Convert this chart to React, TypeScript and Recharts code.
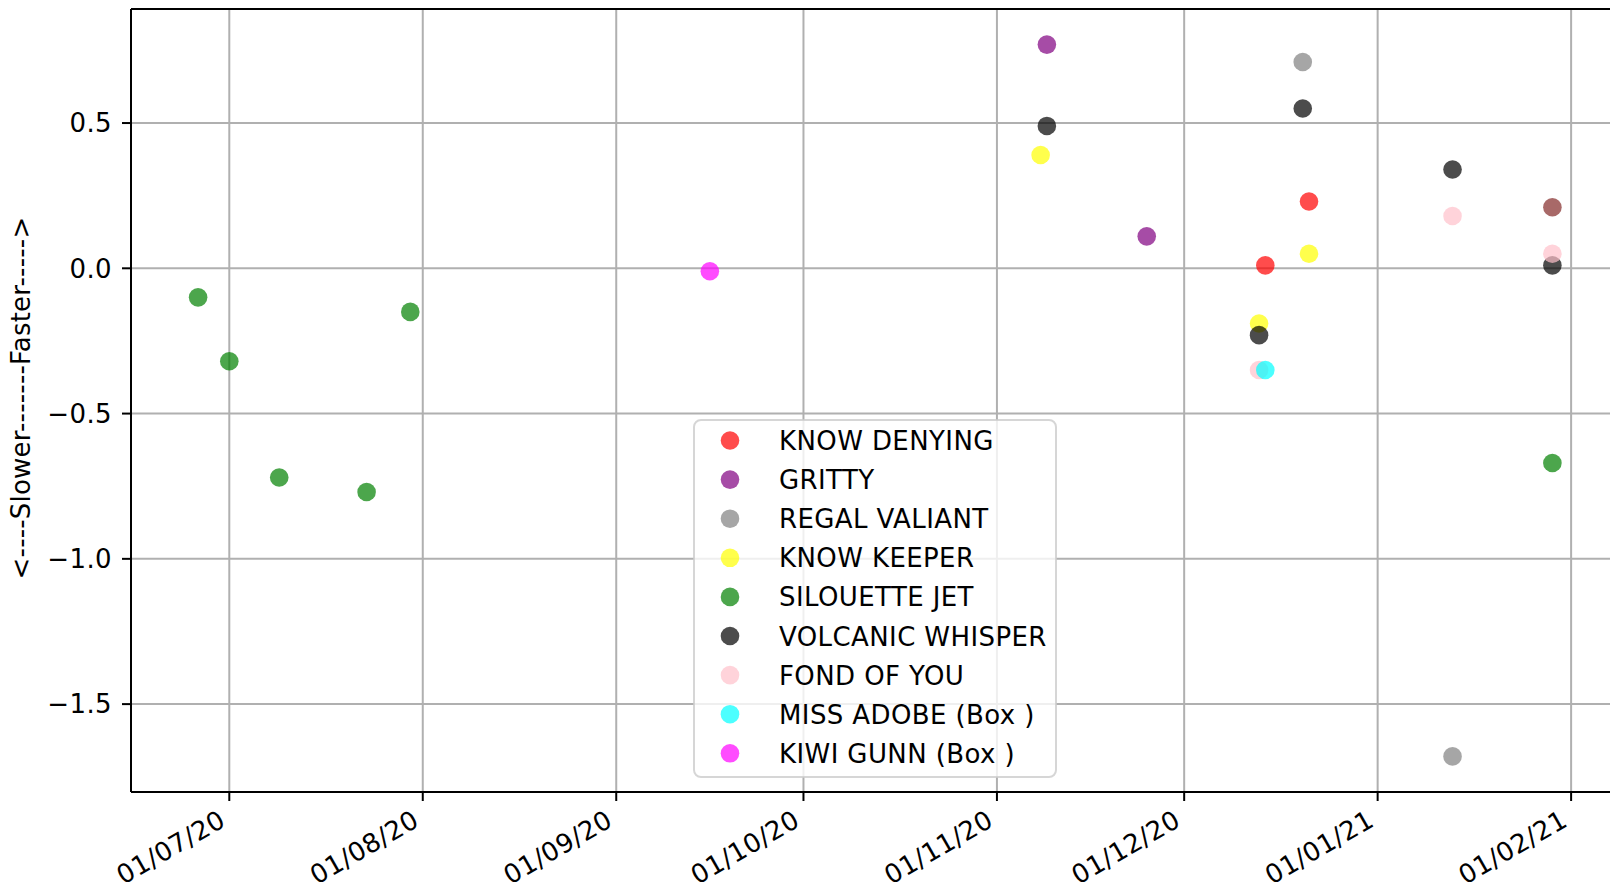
import React from 'react';
import { ScatterChart, Scatter, XAxis, YAxis, CartesianGrid, Legend, ReferenceLine, Label } from 'recharts';

const FONT = '"DejaVu Sans", Verdana, sans-serif';
const FONT_SIZE = 26;
const SPACING = 0.4;

// series, in the order they are drawn (and listed in the legend)
const SERIES_NAMES = [
  'KNOW DENYING',
  'GRITTY',
  'REGAL VALIANT',
  'KNOW KEEPER',
  'SILOUETTE JET',
  'VOLCANIC WHISPER',
  'FOND OF YOU',
  'MISS ADOBE (Box )',
  'KIWI GUNN (Box )',
];
const SERIES_COLORS = ['#ff0000', '#800080', '#808080', '#ffff00', '#008000', '#000000', '#ffc0cb', '#00ffff', '#ff00ff'];

const KNOW_DENYING_DATES = ['2020-12-14', '2020-12-21'];
const KNOW_DENYING_VALUES = [0.01, 0.23];

const GRITTY_DATES = ['2020-11-09', '2020-11-25'];
const GRITTY_VALUES = [0.77, 0.11];

const REGAL_VALIANT_DATES = ['2020-12-20', '2021-01-13'];
const REGAL_VALIANT_VALUES = [0.71, -1.68];

const KNOW_KEEPER_DATES = ['2020-11-08', '2020-12-13', '2020-12-21'];
const KNOW_KEEPER_VALUES = [0.39, -0.19, 0.05];

const SILOUETTE_JET_DATES = ['2020-06-26', '2020-07-01', '2020-07-09', '2020-07-23', '2020-07-30', '2021-01-29'];
const SILOUETTE_JET_VALUES = [-0.1, -0.32, -0.72, -0.77, -0.15, -0.67];

const VOLCANIC_WHISPER_DATES = ['2020-11-09', '2020-12-13', '2020-12-20', '2021-01-13', '2021-01-29'];
const VOLCANIC_WHISPER_VALUES = [0.49, -0.23, 0.55, 0.34, 0.01];

const FOND_OF_YOU_DATES = ['2020-12-13', '2021-01-13', '2021-01-29'];
const FOND_OF_YOU_VALUES = [-0.35, 0.18, 0.05];

const MISS_ADOBE_DATES = ['2020-12-14'];
const MISS_ADOBE_VALUES = [-0.35];

const KIWI_GUNN_DATES = ['2020-09-16'];
const KIWI_GUNN_VALUES = [-0.01];

// one extra point that is not in the legend
const UNLISTED_DATES = ['2021-01-29'];
const UNLISTED_VALUES = [0.21];
const UNLISTED_COLOR = '#832a28';

const SERIES_DATES = [
  KNOW_DENYING_DATES, GRITTY_DATES, REGAL_VALIANT_DATES, KNOW_KEEPER_DATES, SILOUETTE_JET_DATES,
  VOLCANIC_WHISPER_DATES, FOND_OF_YOU_DATES, MISS_ADOBE_DATES, KIWI_GUNN_DATES,
];
const SERIES_VALUES = [
  KNOW_DENYING_VALUES, GRITTY_VALUES, REGAL_VALIANT_VALUES, KNOW_KEEPER_VALUES, SILOUETTE_JET_VALUES,
  VOLCANIC_WHISPER_VALUES, FOND_OF_YOU_VALUES, MISS_ADOBE_VALUES, KIWI_GUNN_VALUES,
];

const X_TICKS = ['2020-07-01', '2020-08-01', '2020-09-01', '2020-10-01', '2020-11-01', '2020-12-01', '2021-01-01', '2021-02-01'];
const Y_TICKS = [0.5, 0, -0.5, -1, -1.5];

const X_MIN = Date.UTC(2020, 5, 15, 6);
const X_MAX = Date.UTC(2021, 1, 8, 20);
const Y_MIN = -1.8025;
const Y_MAX = 0.8925;

const Y_LABEL = '<----Slower-------Faster----->';

const DOT_R = 9.3;
const ALPHA = 0.7;

const toPoints = (dates: string[], values: number[]) =>
  dates.map((d, i) => ({ x: Date.parse(d), y: values[i] }));

const fmtDate = (ms: number) => {
  const d = new Date(ms);
  const p = (n: number) => String(n).padStart(2, '0');
  return `${p(d.getUTCDate())}/${p(d.getUTCMonth() + 1)}/${p(d.getUTCFullYear() % 100)}`;
};

const fmtY = (v: number) => v.toFixed(1).replace('-', '\u2212');

const XTick = (props: any) => {
  const { x, payload } = props;
  const ax = x - 2;
  const ay = 825;
  return (
    <text x={ax} y={ay} transform={`rotate(-30 ${ax} ${ay})`} textAnchor="end"
      fontSize={FONT_SIZE} letterSpacing={SPACING} fontFamily={FONT} fill="#000">
      {fmtDate(payload.value)}
    </text>
  );
};

const YTick = (props: any) => {
  const { x, y, payload } = props;
  return (
    <text x={x} y={y} dy="0.36em" textAnchor="end"
      fontSize={FONT_SIZE} letterSpacing={SPACING} fontFamily={FONT} fill="#000">
      {fmtY(payload.value)}
    </text>
  );
};

const dot = (color: string) => (p: any) => (
  <circle cx={p.cx} cy={p.cy} r={DOT_R} fill={color} fillOpacity={ALPHA} />
);

const LegendBox = () => (
  <svg width={364} height={359} style={{ display: 'block' }}>
    <rect x={1} y={1} width={362} height={357} rx={7} fill="#fff" fillOpacity={0.8}
      stroke="#cccccc" strokeOpacity={0.8} strokeWidth={2} />
    {SERIES_NAMES.map((name, i) => {
      const cy = 21.5 + i * 39.1;
      return (
        <g key={name}>
          <circle cx={37} cy={cy} r={DOT_R} fill={SERIES_COLORS[i]} fillOpacity={ALPHA} />
          <text x={86} y={cy + 9.5} fontSize={FONT_SIZE} letterSpacing={SPACING} fontFamily={FONT} fill="#000">
            {name}
          </text>
        </g>
      );
    })}
  </svg>
);

export default function App() {
  return (
    <div style={{ position: 'fixed', left: 0, top: 0, width: 1610, height: 890, overflow: 'hidden', background: '#fff' }}>
      <ScatterChart width={1620} height={890} margin={{ top: 9, right: 0, bottom: 0, left: 0 }}>
        <CartesianGrid stroke="#b0b0b0" strokeWidth={2} />
        <XAxis
          type="number"
          dataKey="x"
          domain={[X_MIN, X_MAX]}
          ticks={X_TICKS.map((d) => Date.parse(d))}
          interval={0}
          height={98}
          tickSize={9}
          tickLine={{ stroke: '#000', strokeWidth: 2 }}
          axisLine={{ stroke: '#000', strokeWidth: 2 }}
          tick={<XTick />}
        />
        <YAxis
          type="number"
          dataKey="y"
          domain={[Y_MIN, Y_MAX]}
          ticks={Y_TICKS}
          interval={0}
          width={131}
          tickSize={9}
          tickMargin={10}
          tick={<YTick />}
          tickLine={{ stroke: '#000', strokeWidth: 2 }}
          axisLine={{ stroke: '#000', strokeWidth: 2 }}
        >
          <Label
            content={() => (
              <text x={30} y={398} transform="rotate(-90 30 398)" textAnchor="middle"
                fontSize={FONT_SIZE} letterSpacing={0.2} fontFamily={FONT} fill="#000">
                {Y_LABEL}
              </text>
            )}
          />
        </YAxis>
        <ReferenceLine y={Y_MAX} stroke="#000" strokeWidth={2} />
        <ReferenceLine x={X_MAX} stroke="#000" strokeWidth={2} />
        {SERIES_NAMES.map((name, i) => (
          <Scatter
            key={name}
            name={name}
            data={toPoints(SERIES_DATES[i], SERIES_VALUES[i])}
            fill={SERIES_COLORS[i]}
            shape={dot(SERIES_COLORS[i])}
            isAnimationActive={false}
          />
        ))}
        <Scatter
          name="unlisted"
          legendType="none"
          data={toPoints(UNLISTED_DATES, UNLISTED_VALUES)}
          fill={UNLISTED_COLOR}
          shape={dot(UNLISTED_COLOR)}
          isAnimationActive={false}
        />
        <Legend
          layout="vertical"
          align="center"
          verticalAlign="middle"
          wrapperStyle={{ left: 693, top: 419, width: 364, height: 359 }}
          content={() => <LegendBox />}
        />
      </ScatterChart>
    </div>
  );
}
